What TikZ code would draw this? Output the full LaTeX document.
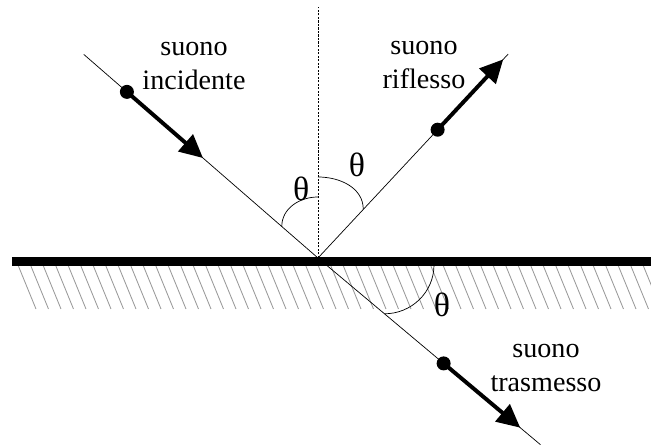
\documentclass[tikz,border=0pt]{standalone}
\usepackage{fontspec}
\setmainfont{Liberation Serif}
\usetikzlibrary{arrows.meta}

\begin{document}
\begin{tikzpicture}[font=\fontsize{20}{24}\selectfont, ray/.style={line width=0.5pt}, wave/.style={line width=2.8pt, -{Triangle[length=5.8mm,width=5.5mm]}}, hatch/.style={gray!80, line width=0.6pt}, ang/.style={font=\fontsize{24}{24}\selectfont}]
\useasboundingbox (-7.95,-4.7) rectangle (8.325,6.45);
\coordinate (O) at (0,0); \coordinate (N) at (0,6.275); \coordinate (L) at (-7.65,-0.08); \coordinate (E) at (8.4,-0.08);
\coordinate (I) at (139:7.76); \coordinate (R) at (47:6.97); \coordinate (T) at (-40:7.26);
% hatched ground below the surface
\foreach \k in {0,...,50} \draw[hatch] (-7.5+0.3125*\k,-0.175) -- ++(0.45,-1.1);
\draw[line width=6.2pt] (L) -- (E);
\draw[ray, dash pattern=on 1.5pt off 1pt] (O) -- (N);
\draw[ray] (I) -- (O) -- (R); \draw[ray] (O) -- (T);
% sound directions
\coordinate (Id) at (139:6.33); \coordinate (Ia) at (139:3.81); \draw[wave] (Id) -- (Ia); \fill (Id) circle (0.175);
\coordinate (Rd) at (47:4.385); \coordinate (Ra) at (47:6.79); \draw[wave] (Rd) -- (Ra); \fill (Rd) circle (0.175);
\coordinate (Td) at (-40:4.1); \coordinate (Ta) at (-40:6.6); \draw[wave] (Td) -- (Ta); \fill (Td) circle (0.175);
% angles
\draw[ray] (0,1.525) to[out=180,in=90] (139:1.2); \draw[ray] (0,2.025) to[out=0,in=90] (47:1.66); \draw[ray] (2.9,-0.175) to[out=-90,in=0] (-40:2.17);
\node[ang] (th1) at (-0.42,1.72) {θ}; \node[ang] (th2) at (0.975,2.33) {θ}; \node[ang] (th3) at (3.1,-1.18) {θ};
\node[align=center] (inc) at (-3.1,4.8) {suono\\incidente};
\node[align=center] (rif) at (2.65,4.83) {suono\\riflesso};
\node[align=center] (tra) at (5.7,-2.75) {suono\\trasmesso};
\end{tikzpicture}
\end{document}
